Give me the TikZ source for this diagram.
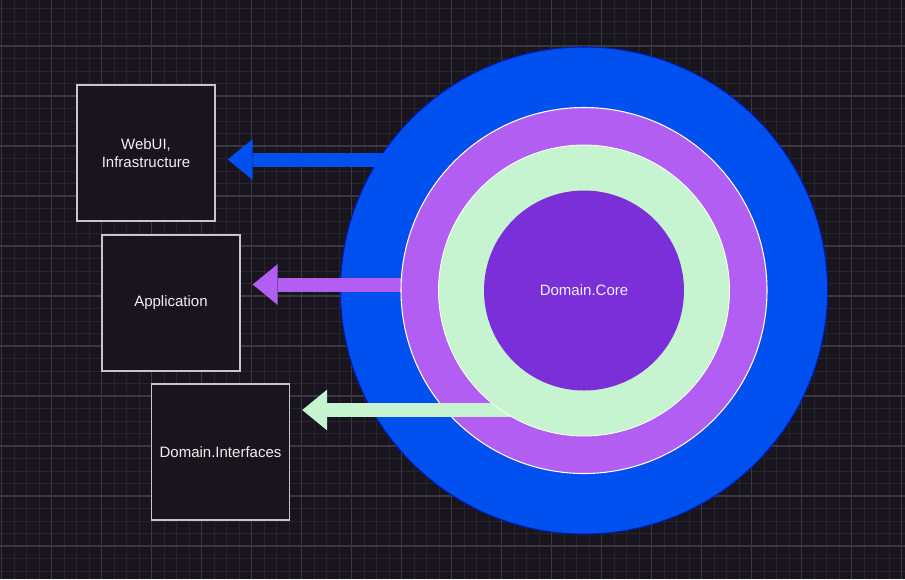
\documentclass[tikz,border=0pt]{standalone}
\usepackage{fontspec}
\setmainfont{Liberation Sans}
\usetikzlibrary{arrows.meta}
\definecolor{bgdark}{HTML}{18151E}
\definecolor{gridmin}{HTML}{27242C}
\definecolor{gridmaj}{HTML}{3B3940}
\definecolor{ringblue}{HTML}{0050EF}
\definecolor{ringbluedark}{HTML}{001DBC}
\definecolor{ringpurple}{HTML}{B35EF2}
\definecolor{ringgreen}{HTML}{C6F4D0}
\definecolor{corepurple}{HTML}{7B2FD9}
\begin{document}
\begin{tikzpicture}[x=0.75pt,y=-0.75pt,
	layerbox/.style={draw=white!78!black,line width=1.1pt,fill=bgdark,minimum width=103.5pt,minimum height=102pt,
		text=white!94!black,align=center,font=\fontsize{11.25}{13.5}\selectfont},
	ring/.style={circle,inner sep=0pt},
	flex/.style={line width=10.5pt,-{Triangle[length=18.75pt,width=30.75pt,line width=0pt]},shorten >=9pt}]
	\fill[bgdark] (0,0) rectangle (905,579);
	\useasboundingbox (0,0) rectangle (905,579);
	% grid
	\foreach \i in {0,...,72} \draw[gridmin,line width=0.6pt] (1.7+12.5*\i,0)--(1.7+12.5*\i,579);
	\foreach \i in {-1,...,46} \draw[gridmin,line width=0.6pt] (0,8.5+12.5*\i)--(905,8.5+12.5*\i);
	\foreach \i in {0,...,18} \draw[gridmaj,line width=0.8pt] (1.7+50*\i,0)--(1.7+50*\i,579);
	\foreach \i in {0,...,11} \draw[gridmaj,line width=0.8pt] (0,46+50*\i)--(905,46+50*\i);
	% layers on the left
	\node[layerbox] (web) at (146,153) {WebUI,\\Infrastructure};
	\node[layerbox] (app) at (171,303) {Application};
	\node[layerbox] (dint) at (220.5,452) {Domain.Interfaces};
	% onion
	\node[ring,fill=ringblue,draw=ringbluedark,line width=0.8pt,minimum size=365.25pt] (outer) at (584,290.5) {};
	\coordinate (s1) at (390,159.5);
	\coordinate (s2) at (430,284.5);
	\coordinate (s3) at (540,410);
	\draw[flex,ringblue] (s1) -- (s1 -| web.east);
	\draw[flex,ringpurple] (s2) -- (s2 -| app.east);
	\node[ring,fill=ringpurple,draw=white,line width=0.8pt,minimum size=274.5pt] (mid) at (outer.center) {};
	\draw[flex,ringgreen] (s3) -- (s3 -| dint.east);
	\node[ring,fill=ringgreen,draw=white,line width=0.6pt,minimum size=218.25pt] (inner) at (outer.center) {};
	\node[ring,fill=corepurple,minimum size=150pt,text=white!94!blue,font=\fontsize{11.25}{13.5}\selectfont] (core) at (outer.center) {Domain.Core};
\end{tikzpicture}
\end{document}
